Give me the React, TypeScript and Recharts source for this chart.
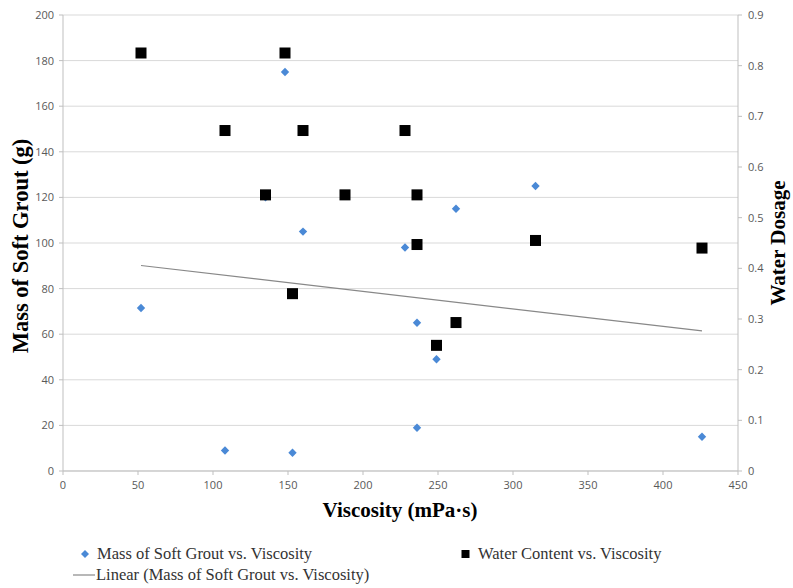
import {
  ScatterChart, Scatter, XAxis, YAxis, CartesianGrid, Label,
} from 'recharts'

// Mass of Soft Grout vs. Viscosity (left axis, g)
const massViscosity = [52, 108, 153, 135, 148, 160, 188, 228, 236, 249, 236, 262, 315, 426]
const massValues = [71.5, 9, 8, 120, 175, 105, 121, 98, 65, 49, 19, 115, 125, 15]

// Water Content vs. Viscosity (right axis)
const waterViscosity = [52, 148, 108, 160, 228, 135, 188, 236, 236, 315, 426, 153, 262, 249]
const waterValues = [0.825, 0.825, 0.672, 0.672, 0.672, 0.545, 0.545, 0.545, 0.447, 0.455, 0.44, 0.35, 0.293, 0.248]

const xTicks = [0, 50, 100, 150, 200, 250, 300, 350, 400, 450]
const leftTicks = [0, 20, 40, 60, 80, 100, 120, 140, 160, 180, 200]
const rightTicks = [0, 0.1, 0.2, 0.3, 0.4, 0.5, 0.6, 0.7, 0.8, 0.9]

const massData = massViscosity.map((x, i) => ({ x, mass: massValues[i] }))
const waterData = waterViscosity.map((x, i) => ({ x, water: waterValues[i] }))

// least squares trend line, like Excel's "Linear" trendline
function linearFit(xs: number[], ys: number[]) {
  const n = xs.length
  const mx = xs.reduce((a, b) => a + b, 0) / n
  const my = ys.reduce((a, b) => a + b, 0) / n
  let sxy = 0
  let sxx = 0
  xs.forEach((x, i) => {
    sxy += (x - mx) * (ys[i] - my)
    sxx += (x - mx) * (x - mx)
  })
  const slope = sxy / sxx
  return (x: number) => my + slope * (x - mx)
}
const fit = linearFit(massViscosity, massValues)
const trendData = [Math.min(...massViscosity), Math.max(...massViscosity)].map((x) => ({ x, mass: fit(x) }))

const BLUE = '#4a89d6'
const tickStyle = { fontSize: 11, fill: '#595959', fontFamily: 'Open Sans, sans-serif' }
const titleFont = '"Liberation Serif", "Times New Roman", serif'

function Diamond(props: any) {
  const { cx, cy } = props
  if (cx == null || cy == null) return null
  const r = 4.2
  return <path d={`M${cx},${cy - r}L${cx + r},${cy}L${cx},${cy + r}L${cx - r},${cy}Z`} fill={BLUE} />
}

function Square(props: any) {
  const { cx, cy } = props
  if (cx == null || cy == null) return null
  return <rect x={cx - 5.5} y={cy - 5.5} width={11} height={11} fill="#000" />
}

function Legend() {
  const text = {
    fontFamily: titleFont, fontSize: 16.5, lineHeight: '18px', color: '#333',
    position: 'absolute' as const, whiteSpace: 'nowrap' as const,
  }
  return (
    <>
      <svg style={{ position: 'absolute', left: 0, top: 0 }} width={793} height={588} pointerEvents="none">
        <path d="M85,550L89,554L85,558L81,554Z" fill={BLUE} />
        <rect x={461.5} y={550} width={8} height={8} fill="#000" />
        <line x1={73} x2={95} y1={575} y2={575} stroke="#888" strokeWidth={1.2} />
      </svg>
      <div style={{ ...text, left: 97, top: 545 }}>Mass of Soft Grout vs. Viscosity</div>
      <div style={{ ...text, left: 478, top: 545 }}>Water Content vs. Viscosity</div>
      <div style={{ ...text, left: 96, top: 566 }}>Linear (Mass of Soft Grout vs. Viscosity)</div>
    </>
  )
}

export default function App() {
  return (
    <div style={{ position: 'absolute', left: 0, top: 0, width: 793, height: 588, background: '#fff' }}>
      <ScatterChart width={793} height={588} margin={{ top: 15, right: 0, bottom: 0, left: 0 }}>
        <CartesianGrid horizontal vertical={false} stroke="#d9d9d9" yAxisId="left" />
        <XAxis
          type="number"
          dataKey="x"
          domain={[0, 450]}
          ticks={xTicks}
          height={117}
          tick={tickStyle}
          tickLine={{ stroke: '#bfbfbf' }}
          axisLine={{ stroke: '#bfbfbf' }}
          tickSize={4}
          tickMargin={6}
          allowDataOverflow
        >
          <Label
            content={() => (
              <text x={400} y={517} textAnchor="middle" fontFamily={titleFont} fontWeight="bold" fontSize={21} fill="#000">
                Viscosity (mPa·s)
              </text>
            )}
          />
        </XAxis>
        <YAxis
          yAxisId="left"
          type="number"
          dataKey="mass"
          domain={[0, 200]}
          ticks={leftTicks}
          width={63}
          tick={tickStyle}
          tickLine={{ stroke: '#bfbfbf' }}
          axisLine={{ stroke: '#bfbfbf' }}
          tickSize={4}
          tickMargin={5}
        >
          <Label
            content={() => (
              <text x={28} y={246} transform="rotate(-90, 28, 246)" textAnchor="middle" fontFamily={titleFont} fontWeight="bold" fontSize={22.5} fill="#000">
                Mass of Soft Grout (g)
              </text>
            )}
          />
        </YAxis>
        <YAxis
          yAxisId="right"
          orientation="right"
          type="number"
          dataKey="water"
          domain={[0, 0.9]}
          ticks={rightTicks}
          width={55}
          tick={tickStyle}
          tickLine={{ stroke: '#bfbfbf' }}
          axisLine={{ stroke: '#bfbfbf' }}
          tickSize={4}
          tickMargin={6}
        >
          <Label
            content={() => (
              <text x={785} y={243} transform="rotate(-90, 785, 243)" textAnchor="middle" fontFamily={titleFont} fontWeight="bold" fontSize={21} fill="#000">
                Water Dosage
              </text>
            )}
          />
        </YAxis>
        <Scatter
          yAxisId="left"
          data={trendData}
          dataKey="mass"
          line={{ stroke: '#888', strokeWidth: 1.2 }}
          shape={() => null}
          isAnimationActive={false}
        />
        <Scatter yAxisId="left" data={massData} dataKey="mass" shape={Diamond} isAnimationActive={false} />
        <Scatter yAxisId="right" data={waterData} dataKey="water" shape={Square} isAnimationActive={false} />
      </ScatterChart>
      <Legend />
    </div>
  )
}
